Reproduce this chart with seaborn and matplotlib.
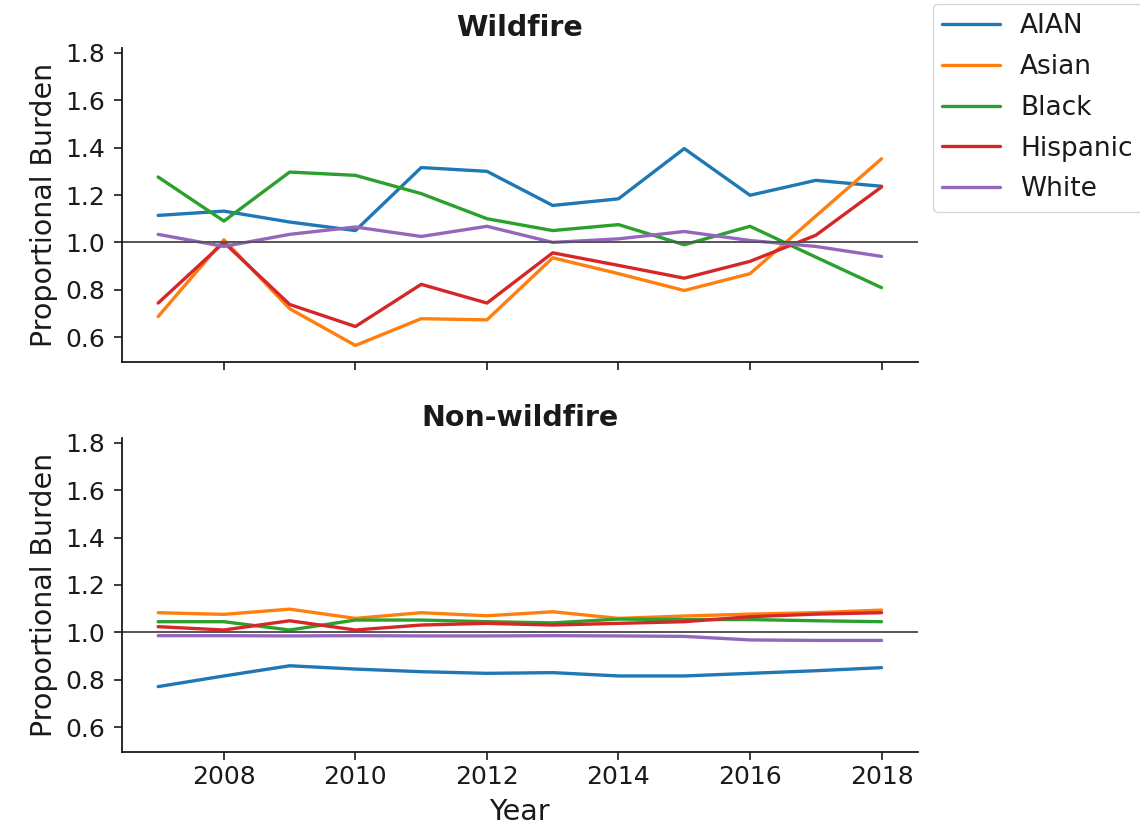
import matplotlib
matplotlib.use("Agg")
import matplotlib.pyplot as plt
import numpy as np
import pandas as pd
import seaborn as sns

# Years and population groups
years = list(range(2007, 2019))
groups = ["AIAN", "Asian", "Black", "Hispanic", "White"]

# Proportional burden attributable to wildfire smoke
wildfire_aian = [1.114, 1.132, 1.086, 1.050, 1.316, 1.300, 1.156, 1.184, 1.396, 1.199, 1.262, 1.237]
wildfire_asian = [0.687, 1.011, 0.720, 0.565, 0.678, 0.673, 0.935, 0.868, 0.797, 0.868, 1.111, 1.353]
wildfire_black = [1.276, 1.090, 1.297, 1.283, 1.206, 1.100, 1.050, 1.075, 0.990, 1.068, 0.938, 0.809]
wildfire_hispanic = [0.744, 1.000, 0.738, 0.645, 0.823, 0.744, 0.956, 0.903, 0.849, 0.920, 1.030, 1.234]
wildfire_white = [1.034, 0.983, 1.034, 1.065, 1.025, 1.068, 1.000, 1.015, 1.046, 1.008, 0.983, 0.941]

# Proportional burden from non-wildfire sources
nonwildfire_aian = [0.771, 0.816, 0.859, 0.845, 0.834, 0.827, 0.830, 0.816, 0.816, 0.827, 0.838, 0.851]
nonwildfire_asian = [1.083, 1.076, 1.098, 1.059, 1.083, 1.070, 1.087, 1.059, 1.069, 1.077, 1.083, 1.094]
nonwildfire_black = [1.045, 1.045, 1.010, 1.052, 1.052, 1.045, 1.040, 1.056, 1.054, 1.054, 1.049, 1.045]
nonwildfire_hispanic = [1.024, 1.010, 1.049, 1.010, 1.031, 1.038, 1.031, 1.038, 1.045, 1.066, 1.077, 1.083]
nonwildfire_white = [0.986, 0.986, 0.985, 0.986, 0.985, 0.985, 0.986, 0.985, 0.983, 0.968, 0.966, 0.966]

x_ticks = [2008, 2010, 2012, 2014, 2016, 2018]
y_ticks = [0.6, 0.8, 1.0, 1.2, 1.4, 1.6, 1.8]


def long_frame(series):
    rows = []
    for g, vals in zip(groups, series):
        for y, v in zip(years, vals):
            rows.append({"Year": y, "Burden": v, "Group": g})
    return pd.DataFrame(rows)


df_wild = long_frame([wildfire_aian, wildfire_asian, wildfire_black,
                      wildfire_hispanic, wildfire_white])
df_nonwild = long_frame([nonwildfire_aian, nonwildfire_asian, nonwildfire_black,
                         nonwildfire_hispanic, nonwildfire_white])

sns.set_theme(style="ticks")
plt.rcParams["font.family"] = ["DejaVu Sans"]
plt.rcParams["axes.edgecolor"] = "#1a1a1a"
plt.rcParams["xtick.color"] = "#1a1a1a"
plt.rcParams["ytick.color"] = "#1a1a1a"
plt.rcParams["text.color"] = "#1a1a1a"
plt.rcParams["axes.labelcolor"] = "#1a1a1a"

palette = dict(zip(groups, sns.color_palette("tab10", 5)))

fig = plt.figure(figsize=(11.4, 8.26), dpi=100)
ax_top = fig.add_axes([0.107, 0.5617, 0.698, 0.380])
ax_bot = fig.add_axes([0.107, 0.0896, 0.698, 0.380], sharex=ax_top, sharey=ax_top)

for ax, df, title in [(ax_top, df_wild, "Wildfire"), (ax_bot, df_nonwild, "Non-wildfire")]:
    sns.lineplot(data=df, x="Year", y="Burden", hue="Group", hue_order=groups,
                 palette=palette, linewidth=2.4, ax=ax, legend=(ax is ax_top))
    ax.axhline(1.0, color="#555555", linewidth=1.4)
    ax.set_title(title, fontsize=20.5, fontweight="bold", pad=9)
    ax.set_ylabel("Proportional Burden", fontsize=20.5, labelpad=5)
    ax.tick_params(axis="both", labelsize=18, length=6, width=1.2)
    ax.tick_params(axis="y", pad=6)
    for s in ("left", "bottom"):
        ax.spines[s].set_linewidth(1.3)

ax_top.set_xlim(2006.45, 2018.55)
ax_top.set_ylim(0.495, 1.82)
ax_top.set_xticks(x_ticks)
ax_top.set_yticks(y_ticks)
ax_top.set_yticklabels([f"{v:.1f}" for v in y_ticks])
ax_top.set_xlabel("")
plt.setp(ax_top.get_xticklabels(), visible=False)
ax_bot.set_xlabel("Year", fontsize=20.5, labelpad=6)

sns.despine(fig=fig)

handles, labels = ax_top.get_legend_handles_labels()
ax_top.get_legend().remove()
fig.legend(handles, labels, loc="upper left",
           bbox_to_anchor=(933 / 1140, 1 - 4 / 826), borderaxespad=0,
           borderpad=0.35, handletextpad=0.75, labelspacing=0.56,
           fontsize=19, handlelength=2.2, frameon=True)

fig.savefig("out.png", dpi=100)
